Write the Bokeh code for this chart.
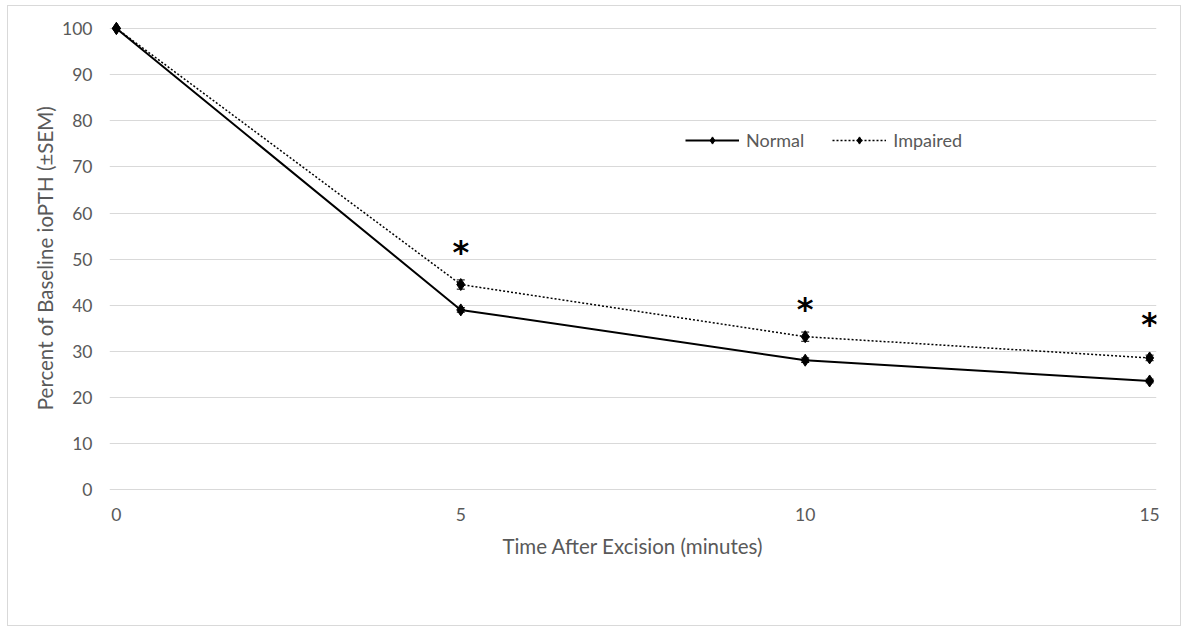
from bokeh.plotting import figure
from bokeh.models import Range1d, FixedTicker, Legend, LegendItem, Whisker, ColumnDataSource
from bokeh.core.properties import value
from bokeh.embed import file_html
from bokeh.resources import INLINE

time_min = [0, 5, 10, 15]
normal = [100, 39.0, 28.1, 23.6]
normal_sem = [0.0, 0.5, 0.5, 0.4]
impaired = [100, 44.5, 33.2, 28.6]
impaired_sem = [0.0, 1.0, 1.0, 0.6]
star_x = [5, 10, 15]
star_y = [51.5, 39.2, 36.0]
y_ticks = [0, 10, 20, 30, 40, 50, 60, 70, 80, 90, 100]
x_ticks = [0, 5, 10, 15]

FONT = "Lato"
GRAY = "#595959"

p = figure(width=1174, height=621, output_backend="svg", toolbar_location=None,
           x_range=Range1d(-0.1, 15.1), y_range=Range1d(-1, 101.5),
           min_border_left=101, min_border_right=26, min_border_top=15, min_border_bottom=133)
p.styles = {"border": "1px solid #d9d9d9", "margin-left": "7px", "margin-top": "5px"}
p.outline_line_color = None
p.background_fill_color = "white"
p.border_fill_color = "white"

p.xgrid.grid_line_color = None
p.ygrid.grid_line_color = "#d9d9d9"
p.ygrid.grid_line_width = 1
p.yaxis.ticker = FixedTicker(ticks=y_ticks)
p.xaxis.ticker = FixedTicker(ticks=x_ticks)
p.ygrid.ticker = FixedTicker(ticks=y_ticks)

for ax in (p.xaxis[0], p.yaxis[0]):
    ax.axis_line_color = None
    ax.major_tick_line_color = None
    ax.minor_tick_line_color = None
    ax.major_label_text_font = FONT
    ax.major_label_text_font_size = "17.5px"
    ax.major_label_text_color = GRAY
    ax.axis_label_text_font = FONT
    ax.axis_label_text_font_size = "20.5px"
    ax.axis_label_text_color = GRAY
    ax.axis_label_text_font_style = "normal"

p.xaxis.axis_label = "Time After Excision (minutes)"
p.yaxis.axis_label = "Percent of Baseline ioPTH (\u00b1SEM)"
p.xaxis.major_label_standoff = 7
p.yaxis.major_label_standoff = 11
p.xaxis.axis_label_standoff = 10
p.yaxis.axis_label_standoff = 2

src_n = ColumnDataSource(dict(x=time_min, y=normal,
                              lo=[a - b for a, b in zip(normal, normal_sem)],
                              hi=[a + b for a, b in zip(normal, normal_sem)]))
src_i = ColumnDataSource(dict(x=time_min, y=impaired,
                              lo=[a - b for a, b in zip(impaired, impaired_sem)],
                              hi=[a + b for a, b in zip(impaired, impaired_sem)]))

for src in (src_i, src_n):
    w = Whisker(source=src, base="x", lower="lo", upper="hi", line_color="black", line_width=1)
    w.upper_head.size = 8
    w.lower_head.size = 8
    w.upper_head.line_color = "black"
    w.lower_head.line_color = "black"
    p.add_layout(w)

ln = p.line("x", "y", source=src_n, line_color="black", line_width=2)
mn = p.scatter("x", "y", source=src_n, marker="diamond", size=12, fill_color="black", line_color="black")
li = p.line("x", "y", source=src_i, line_color="black", line_width=1.5, line_dash="2 2")
mi = p.scatter("x", "y", source=src_i, marker="diamond", size=12, fill_color="black", line_color="black")

p.text(x=star_x, y=star_y, text=["*"] * len(star_x), text_font=value("DejaVu Sans"),
       text_font_size="32px", text_font_style="bold", text_align="center",
       text_baseline="middle", text_color="black")

legend = Legend(items=[LegendItem(label="Normal", renderers=[ln, mn]),
                       LegendItem(label="Impaired", renderers=[li, mi])],
                orientation="horizontal", location=(576, 343),
                border_line_color=None, background_fill_alpha=0,
                label_text_font=FONT, label_text_font_size="18px", label_text_color=GRAY,
                glyph_width=54, glyph_height=18, label_standoff=7, spacing=28, padding=4)
p.add_layout(legend)

open("out.html", "w").write(file_html(p, INLINE))
